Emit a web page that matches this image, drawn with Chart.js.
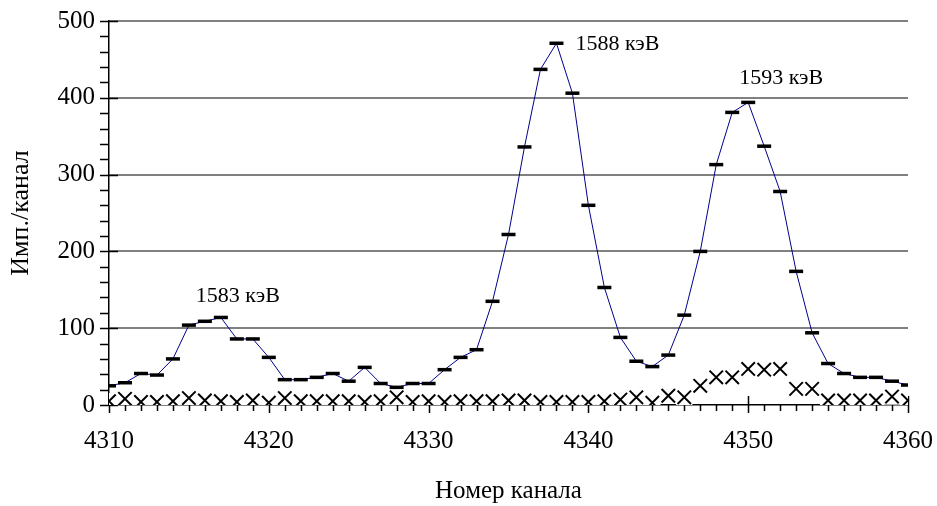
<!DOCTYPE html>
<html>
<head>
<meta charset="utf-8">
<script src="https://cdn.jsdelivr.net/npm/chart.js@4/dist/chart.umd.min.js"></script>
<style>
html,body{margin:0;padding:0;background:#fff;}
#wrap{width:937px;height:506px;position:relative;}
</style>
</head>
<body>
<div id="wrap"><canvas id="c" width="937" height="506"></canvas></div>
<script>
// ---- data ----
const channels = [4310,4311,4312,4313,4314,4315,4316,4317,4318,4319,
                  4320,4321,4322,4323,4324,4325,4326,4327,4328,4329,
                  4330,4331,4332,4333,4334,4335,4336,4337,4338,4339,
                  4340,4341,4342,4343,4344,4345,4346,4347,4348,4349,
                  4350,4351,4352,4353,4354,4355,4356,4357,4358,4359,4360];
const counts = [25,29,41,39,60,104,109,114,86,86,
                62,33,33,36,41,31,49,28,23,28,
                28,46,62,72,135,222,336,437,471,406,
                260,153,88,57,50,65,117,200,313,381,
                394,337,278,174,94,54,41,36,36,31,26];
const background = [5,8,4,4,5,9,6,5,4,6,
                    3,9,5,5,5,5,4,5,10,4,
                    5,4,5,5,5,6,6,4,4,4,
                    4,5,7,10,3,12,10,25,36,36,
                    47,46,47,21,21,6,6,6,6,11,6];
const peakLabels = ['1583 кэВ','1588 кэВ','1593 кэВ'];
const peakChannels = [4317,4338,4350];
const xTickLabels = [4310,4320,4330,4340,4350,4360];
const yTickLabels = [0,100,200,300,400,500];

// ---- build ----
const countPts = channels.map((c,i)=>({x:c,y:counts[i]}));
const bgPts = channels.map((c,i)=>({x:c,y:background[i]}));
const FONT = "'Liberation Serif','Times New Roman',serif";

const ticksPlugin = {
  id:'axisTicks',
  beforeDatasetsDraw(chart){
    const ctx = chart.ctx, a = chart.chartArea;
    const xs = chart.scales.x, ys = chart.scales.y;
    ctx.save();
    ctx.strokeStyle = '#000';
    ctx.lineWidth = 1.5;
    ctx.beginPath();
    const yMin = yTickLabels[0], yMax = yTickLabels[yTickLabels.length-1];
    for (let v = yMin; v <= yMax; v += 20) {
      const py = Math.round(ys.getPixelForValue(v)) + 0.5;
      const major = yTickLabels.includes(v);
      ctx.moveTo(a.left - 9, py);
      ctx.lineTo(major ? a.left + 9 : a.left, py);
    }
    for (let i = 0; i < channels.length; i++) {
      const c = channels[i];
      const px = Math.round(xs.getPixelForValue(c)) + 0.5;
      const major = xTickLabels.includes(c);
      ctx.moveTo(px, major ? a.bottom - 9 : a.bottom);
      ctx.lineTo(px, a.bottom + (major ? 8 : 6));
    }
    ctx.stroke();
    ctx.restore();
  }
};

const labelPlugin = {
  id:'peakLabels',
  afterDatasetsDraw(chart){
    const ctx = chart.ctx;
    const xs = chart.scales.x, ys = chart.scales.y;
    const offsets = [[-25,-21],[19,1],[-9,-24]];
    ctx.save();
    ctx.fillStyle = '#000';
    ctx.font = "22px " + FONT;
    ctx.textAlign = 'left';
    ctx.textBaseline = 'middle';
    peakLabels.forEach((t,i)=>{
      const ch = peakChannels[i];
      const v = counts[channels.indexOf(ch)];
      const px = xs.getPixelForValue(ch), py = ys.getPixelForValue(v);
      ctx.fillText(t, px + offsets[i][0], py + offsets[i][1]);
    });
    ctx.restore();
  }
};

new Chart(document.getElementById('c'), {
  type:'line',
  data:{
    datasets:[
      {
        label:'counts', data:countPts, order:1,
        borderColor:'#00008c', borderWidth:1, tension:0,
        pointStyle:'line', pointRadius:7, pointHoverRadius:7,
        pointBorderColor:'#000', pointBorderWidth:3.5, pointHoverBorderWidth:3.5,
        fill:false
      },
      {
        label:'background', data:bgPts, order:2, showLine:false,
        pointStyle:'crossRot', pointRadius:9.5, pointHoverRadius:9.5,
        pointBorderColor:'#000', pointBorderWidth:2, pointHoverBorderWidth:2
      },
      {
        label:'mask', data:bgPts, order:3, showLine:false,
        pointStyle:'rect', pointRadius:11.5, pointHoverRadius:11.5,
        pointBackgroundColor:'#fff', pointBorderWidth:0, pointHoverBorderWidth:0
      }
    ]
  },
  options:{
    responsive:false, animation:false, devicePixelRatio:1,
    layout:{padding:{left:0,right:29,top:21,bottom:0}},
    plugins:{legend:{display:false}, tooltip:{enabled:false}},
    events:[],
    scales:{
      x:{
        type:'linear', min:xTickLabels[0], max:xTickLabels[xTickLabels.length-1],
        afterBuildTicks(s){ s.ticks = xTickLabels.map(v=>({value:v})); },
        afterFit(s){ s.height = 101; s.paddingLeft = 0; s.paddingRight = 0; },
        grid:{drawOnChartArea:false, drawTicks:false},
        border:{display:true, color:'#000', width:1.5},
        ticks:{padding:21, color:'#000', font:{family:FONT, size:25}, maxRotation:0,
               callback:(v)=>String(v)},
        title:{display:true, text:'Номер канала', color:'#000',
               font:{family:FONT, size:25}, padding:{top:0,bottom:0}}
      },
      y:{
        type:'linear', min:yTickLabels[0], max:yTickLabels[yTickLabels.length-1],
        afterBuildTicks(s){ s.ticks = yTickLabels.map(v=>({value:v})); },
        afterFit(s){ s.width = 109; s.paddingTop = 0; s.paddingBottom = 0; },
        grid:{drawTicks:false, lineWidth:2,
              color:(c)=> (c.tick && c.tick.value > 0) ? '#808080' : 'rgba(0,0,0,0)'},
        border:{display:true, color:'#000', width:1.5},
        ticks:{padding:14, color:'#000', font:{family:FONT, size:25},
               callback:(v)=>String(v)},
        title:{display:true, text:'Имп./канал', color:'#000',
               font:{family:FONT, size:26}, padding:{top:6,bottom:0}}
      }
    }
  },
  plugins:[ticksPlugin, labelPlugin]
});
</script>
</body>
</html>
